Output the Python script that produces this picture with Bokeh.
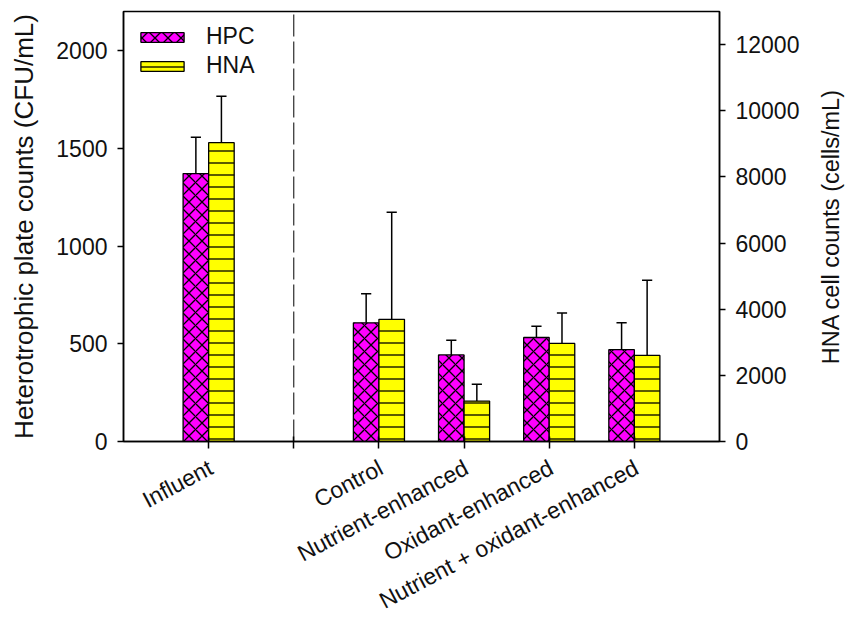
from math import pi
from bokeh.plotting import figure
from bokeh.layouts import row, column
from bokeh.models import (FactorRange, Range1d, LinearAxis, FixedTicker,
                          ColumnDataSource, Legend, LegendItem)
from bokeh.core.properties import value
from bokeh.transform import dodge
from bokeh.embed import file_html
from bokeh.resources import INLINE

categories = ["Influent", "Control", "Nutrient-enhanced", "Oxidant-enhanced",
              "Nutrient + oxidant-enhanced"]
hpc = [1371, 607, 443, 532, 470]
hpc_err = [186, 149, 75, 58, 137]
hna = [9035, 3693, 1223, 2965, 2601]
hna_err = [1405, 3236, 507, 920, 2276]
left_ticks = [0, 500, 1000, 1500, 2000]
right_ticks = [0, 2000, 4000, 6000, 8000, 10000, 12000]
left_title = "Heterotrophic plate counts (CFU/mL)"
right_title = "HNA cell counts (cells/mL)"
gap = " "
factors = [categories[0], gap] + categories[1:]

FONT = "Liberation Sans"
TXT = "#111111"

src = ColumnDataSource(dict(
    cat=categories,
    hpc=hpc, hpc_top=[v + e for v, e in zip(hpc, hpc_err)],
    hna=hna, hna_top=[v + e for v, e in zip(hna, hna_err)],
))

TOP_H = 454
BOT_B = TOP_H - 441
p = figure(width=815, height=TOP_H, output_backend="svg", toolbar_location=None,
           x_range=FactorRange(factors=factors, range_padding=0.5,
                               range_padding_units="absolute"),
           y_range=Range1d(0, 2200),
           min_border_left=123, min_border_right=96,
           min_border_top=11, min_border_bottom=BOT_B)
p.extra_y_ranges = {"hna": Range1d(0, 13000)}
p.xgrid.visible = False
p.ygrid.visible = False
p.outline_line_color = "black"
p.outline_line_width = 1.5
p.background_fill_color = "white"
p.border_fill_color = "white"

bw = 0.3
cap = 0.06
r1 = p.vbar(x=dodge("cat", -bw / 2, range=p.x_range), top="hpc", width=bw, source=src,
            fill_color="#ff00ff", line_color="black", line_width=1.3,
            hatch_pattern="diagonal_cross", hatch_color="black", hatch_scale=13,
            hatch_weight=1.3)
r2 = p.vbar(x=dodge("cat", bw / 2, range=p.x_range), top="hna", width=bw, source=src,
            y_range_name="hna",
            fill_color="#ffff00", line_color="black", line_width=1.3,
            hatch_pattern="horizontal_line", hatch_color="black", hatch_scale=12,
            hatch_weight=1.3)

# error bars (upper only)
p.segment(x0=dodge("cat", -bw / 2, range=p.x_range), y0="hpc",
          x1=dodge("cat", -bw / 2, range=p.x_range), y1="hpc_top",
          source=src, line_color="black", line_width=1.5)
p.segment(x0=dodge("cat", -bw / 2 - cap, range=p.x_range), y0="hpc_top",
          x1=dodge("cat", -bw / 2 + cap, range=p.x_range), y1="hpc_top",
          source=src, line_color="black", line_width=1.5)
p.segment(x0=dodge("cat", bw / 2, range=p.x_range), y0="hna",
          x1=dodge("cat", bw / 2, range=p.x_range), y1="hna_top",
          source=src, y_range_name="hna", line_color="black", line_width=1.5)
p.segment(x0=dodge("cat", bw / 2 - cap, range=p.x_range), y0="hna_top",
          x1=dodge("cat", bw / 2 + cap, range=p.x_range), y1="hna_top",
          source=src, y_range_name="hna", line_color="black", line_width=1.5)

# dashed separator
p.segment(x0=[gap], y0=[0], x1=[gap], y1=[2200], line_color="black",
          line_width=1, line_dash="22 5")

# axes
ax = p.yaxis[0]
ax.ticker = FixedTicker(ticks=left_ticks)
ax.axis_label = left_title
ax.axis_label_text_font_size = "26px"
ax.axis_label_text_font_style = "normal"
ax.axis_label_text_font = FONT
ax.axis_label_text_color = TXT
ax.axis_label_standoff = 14

rax = LinearAxis(y_range_name="hna", ticker=FixedTicker(ticks=right_ticks))
p.add_layout(rax, "right")

for a in (ax, rax):
    a.major_label_text_font_size = "23px"
    a.major_label_text_font = FONT
    a.major_label_standoff = 10
    a.axis_line_width = 1.5
    a.axis_line_color = "black"
    a.major_tick_line_width = 1.5
    a.major_tick_out = 6
    a.major_tick_in = 0
    a.minor_tick_line_color = None
    a.major_label_text_color = TXT

# category axis: only its line and ticks here; slanted labels drawn in the strip below
xa = p.xaxis[0]
xa.axis_line_width = 1.5
xa.major_tick_line_width = 1.5
xa.major_tick_out = 7
xa.major_tick_in = 5
xa.major_label_text_color = None
xa.major_label_text_font_size = "1px"
xa.major_label_standoff = 0

legend = Legend(items=[LegendItem(label="HPC", renderers=[r1]),
                       LegendItem(label="HNA", renderers=[r2])],
                location=(12, 361), glyph_width=54, glyph_height=12,
                label_height=29, spacing=0, padding=0, margin=0,
                border_line_color=None, background_fill_alpha=0,
                label_standoff=17, label_text_font_size="23px",
                label_text_font=FONT, label_text_color=TXT)
p.add_layout(legend)

# right-hand axis title, reading bottom-to-top, in a narrow side panel
p2 = figure(width=30, height=TOP_H, output_backend="svg", toolbar_location=None,
            x_range=Range1d(-1, 1), y_range=Range1d(-1, 1),
            x_axis_type=None, y_axis_type=None,
            min_border_left=0, min_border_right=0,
            min_border_top=6, min_border_bottom=BOT_B)
p2.outline_line_color = None
p2.background_fill_color = "white"
p2.border_fill_color = "white"
p2.text(x=[0], y=[0], text=[right_title], angle=pi / 2,
        text_align="center", text_baseline="middle",
        text_font=value(FONT), text_font_size=value("23.5px"), text_color=TXT)

# slanted category labels, sharing the bar chart's x scale
p3 = figure(width=845, height=619 - TOP_H, output_backend="svg",
            toolbar_location=None, x_range=p.x_range, y_range=Range1d(0, 1),
            x_axis_type=None, y_axis_type=None,
            min_border_left=123, min_border_right=126,
            min_border_top=0, min_border_bottom=0)
p3.outline_line_color = None
p3.background_fill_color = "white"
p3.border_fill_color = "white"
p3.text(x="cat", y=1, text="cat", source=ColumnDataSource(dict(cat=categories)),
        angle=0.49, text_align="right", text_baseline="top",
        x_offset=-4, y_offset=0,
        text_font=value(FONT), text_font_size=value("23px"), text_color=TXT)

layout = column(row(p, p2, spacing=0), p3, spacing=0)
open("out.html", "w").write(file_html(layout, INLINE))
